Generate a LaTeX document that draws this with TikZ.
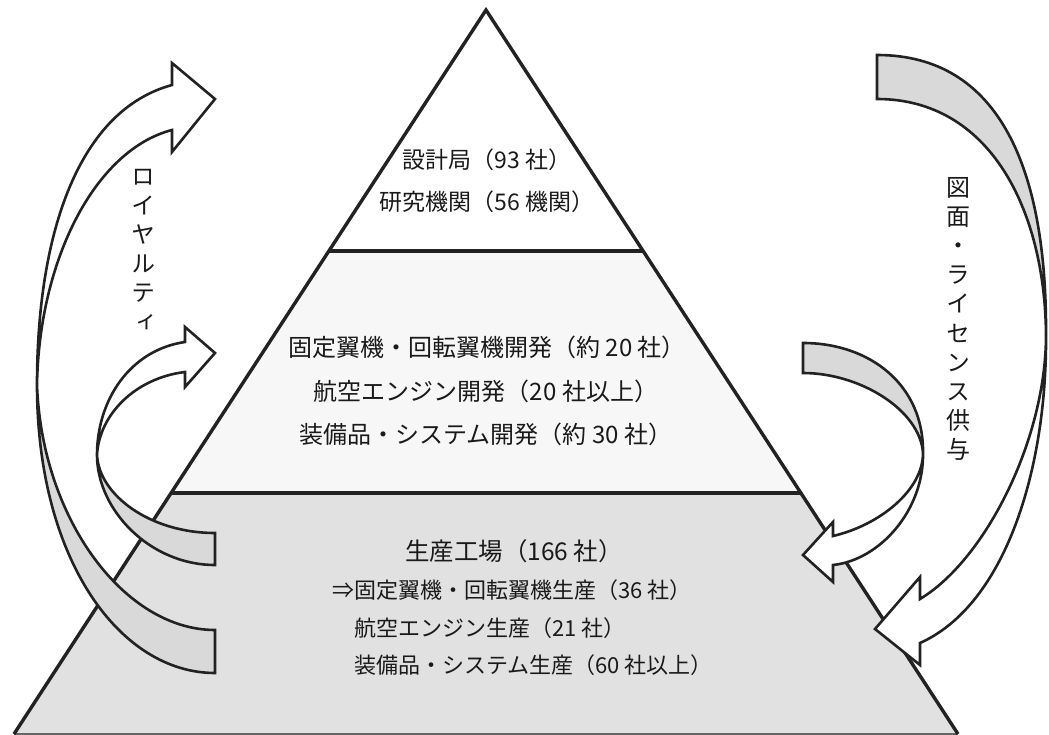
\documentclass[tikz,border=0pt]{standalone}
\usepackage{fontspec}
\setmainfont{Noto Sans CJK JP}
\newfontfamily\vfont[RawFeature=+vert]{Noto Sans CJK JP}
\definecolor{edge}{HTML}{222222}
\definecolor{tierB}{HTML}{E1E1E1}
\definecolor{tierM}{HTML}{F7F7F7}
\definecolor{band}{HTML}{D9D9D9}
\definecolor{ink}{HTML}{1A1A1A}
\definecolor{baseline}{HTML}{666666}
\tikzset{
  pyr/.style={draw=edge, line width=3.4pt, line join=miter, line cap=butt},
  baseedge/.style={draw=baseline, line width=1.5pt},
  arr/.style={draw=edge, line width=2.6pt, line join=miter},
  txt/.style={inner sep=0pt, text height=0.88em, text depth=0.12em, text=ink},
  fa/.style={font=\fontsize{23}{28}\selectfont},
  fb/.style={font=\fontsize{24}{28}\selectfont},
  fd/.style={font=\fontsize{24.5}{28}\selectfont},
  fc/.style={font=\fontsize{22}{26}\selectfont},
  vtext/.style={inner sep=0pt, align=center, text=ink, font=\vfont\fontsize{24}{29.2}\selectfont}
}
\begin{document}
\begin{tikzpicture}[x=1pt,y=-1pt]
\useasboundingbox (0,0) rectangle (1049,735);
% pyramid corners
\coordinate (apex) at (486,10);
\coordinate (tl) at (329,251);
\coordinate (tr) at (643,251);
\coordinate (ml) at (171,493);
\coordinate (mr) at (801,493);
\coordinate (bl) at (14,734);
\coordinate (br) at (958,734);
% tiers
\fill[white] (apex) -- (tr) -- (tl) -- cycle;
\fill[tierM] (tl) -- (tr) -- (mr) -- (ml) -- cycle;
\fill[tierB] (ml) -- (mr) -- (br) -- (bl) -- cycle;
\draw[baseedge] (bl) -- (br);
\draw[pyr] (bl) -- (apex) -- (br);
\draw[pyr] (tl) -- (tr);
\draw[pyr] (ml) -- (mr);
% left big arrow (royalty)
\filldraw[arr, fill=band] (215,630) -- (215,673) .. controls (120,673) and (37,560) .. (37,385)
  .. controls (42,520) and (125,630) .. (215,630) -- cycle;
\filldraw[arr, fill=white] (37,385) .. controls (37,230) and (80,110) .. (172,85) -- (172,63) -- (215,99)
  -- (172,152) -- (172,130) .. controls (95,150) and (39,260) .. (37,385) -- cycle;
% left small arrow
\filldraw[arr, fill=band] (215,533) -- (215,565) .. controls (150,565) and (97,510) .. (97,455)
  .. controls (99,495) and (150,533) .. (215,533) -- cycle;
\filldraw[arr, fill=white] (97,455) .. controls (97,400) and (130,350) .. (185,342) -- (185,327) -- (215,353)
  -- (185,387) -- (185,372) .. controls (135,378) and (99,415) .. (97,455) -- cycle;
% right big arrow (drawings / licence)
\filldraw[arr, fill=band] (877,55) .. controls (1000,55) and (1047,170) .. (1046,335)
  .. controls (1045,210) and (990,99) .. (877,99) -- cycle;
\filldraw[arr, fill=white] (1046,335) .. controls (1047,470) and (1005,605) .. (920,643) -- (920,665) -- (875,629)
  -- (920,577) -- (920,599) .. controls (985,560) and (1046,440) .. (1046,335) -- cycle;
% right small arrow
\filldraw[arr, fill=band] (803,343) .. controls (870,343) and (924,385) .. (923,453)
  .. controls (920,410) and (860,373) .. (803,373) -- cycle;
\filldraw[arr, fill=white] (923,453) .. controls (924,510) and (880,560) .. (833,565) -- (833,582) -- (803,555)
  -- (833,522) -- (833,536) .. controls (880,525) and (923,490) .. (923,453) -- cycle;
% texts
\node[txt, fa] (top1) at (487,165) {設計局（93 社）};
\node[txt, fa] (top2) at (487,207) {研究機関（56 機関）};
\node[txt, fb] (mid1) at (487,353) {固定翼機・回転翼機開発（約 20 社）};
\node[txt, fb] (mid2) at (486,397) {航空エンジン開発（20 社以上）};
\node[txt, fb] (mid3) at (486,440) {装備品・システム開発（約 30 社）};
\node[txt, fd] (bot1) at (514,557) {生産工場（166 社）};
\node[txt, fc, anchor=west] (bot2) at (332,595) {⇒固定翼機・回転翼機生産（36 社）};
\node[txt, fc, anchor=west] (bot3) at (354,633) {航空エンジン生産（21 社）};
\node[txt, fc, anchor=west] (bot4) at (354,670) {装備品・システム生産（60 社以上）};
\node[vtext] (roy) at (143,250) {ロ\\イ\\ヤ\\ル\\テ\\ィ};
\node[vtext] (lic) at (958,319) {図\\面\\・\\ラ\\イ\\セ\\ン\\ス\\供\\与};
\end{tikzpicture}
\end{document}
